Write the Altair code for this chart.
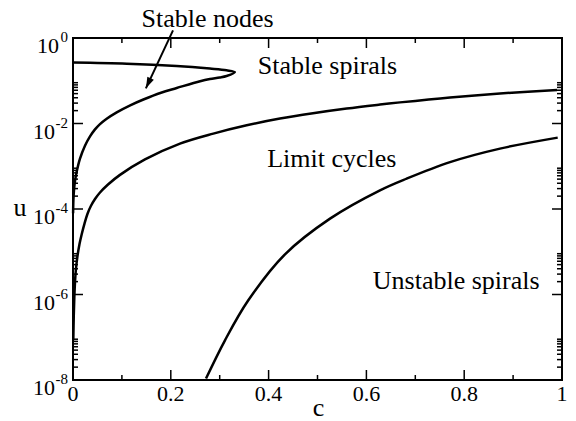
import altair as alt
import pandas as pd
import numpy as np

# ---- data (c, log10 u) ----
nodes_c = [0.0, 0.11, 0.212, 0.28, 0.314, 0.331,
           0.314, 0.30, 0.28, 0.26, 0.2121, 0.18, 0.144, 0.117, 0.0894, 0.0689,
           0.0552, 0.045, 0.0348, 0.0245, 0.0143, 0.0076, 0.0041, 0.002, 0.0008, 0.0002]
nodes_lu = [-0.575, -0.60, -0.655, -0.716, -0.756, -0.80,
            -0.89, -0.925, -0.96, -1.01, -1.17, -1.28, -1.438, -1.574, -1.738, -1.888,
            -2.014, -2.138, -2.302, -2.52, -2.823, -3.125, -3.345, -3.563, -3.797, -4.1]

cyc_c = [0.0006, 0.0016, 0.0027, 0.0041, 0.0057, 0.0088, 0.0133, 0.0178, 0.0235,
         0.0297, 0.0368, 0.045, 0.0552, 0.0716, 0.0961, 0.1472, 0.2188, 0.2869,
         0.3552, 0.4233, 0.4908, 0.5597, 0.6278, 0.6687, 0.771, 0.8732, 0.9898]
cyc_lu = [-7.07, -6.49, -6.07, -5.71, -5.44, -5.13, -4.82, -4.59, -4.34,
          -4.11, -3.925, -3.766, -3.614, -3.427, -3.202, -2.84, -2.47, -2.236,
          -2.042, -1.885, -1.761, -1.651, -1.558, -1.506, -1.389, -1.296, -1.216]

uns_c = [0.272, 0.3108, 0.3585, 0.4335, 0.5256, 0.6278, 0.6824, 0.771, 0.8732, 0.9912]
uns_lu = [-7.967, -7.071, -6.136, -5.06, -4.225, -3.563, -3.289, -2.903, -2.587, -2.33]

x_major = [0.0, 0.2, 0.4, 0.6, 0.8, 1.0]
x_major_labels = ["0", "0.2", "0.4", "0.6", "0.8", "1"]
x_minor = [0.1, 0.3, 0.5, 0.7, 0.9]
y_major_exp = [0, -2, -4, -6, -8]
y_minor_dec = [-2, -4, -6, -8]
y_minor_k = [2, 3, 4, 5, 6, 7, 8, 9]

region_text = ["Stable nodes", "Stable spirals", "Limit cycles", "Unstable spirals"]
region_c = [0.140, 0.378, 0.397, 0.613]
region_lu = [0.25, -0.85, -3.02, -5.86]

arrow_c = [0.2045, 0.149]
arrow_lu = [0.18, -1.178]

W, H = 489, 342
FONT = "Liberation Serif, Times New Roman, Nimbus Roman, DejaVu Serif, serif"

xs = alt.Scale(domain=[0, 1], nice=False, zero=False)
ys = alt.Scale(type="log", domain=[1e-8, 1], nice=False)


def X(f):
    return alt.X(f, type="quantitative", scale=xs, axis=None)


def Y(f):
    return alt.Y(f, type="quantitative", scale=ys, axis=None)


def curve(c, lu):
    df = pd.DataFrame({"c": c, "u": np.power(10.0, lu), "i": list(range(len(c)))})
    return alt.Chart(df).mark_line(color="black", strokeWidth=2.5,
                                   interpolate="catmull-rom").encode(
        x=X("c"), y=Y("u"), order=alt.Order("i:Q"))


layers = [curve(nodes_c, nodes_lu), curve(cyc_c, cyc_lu), curve(uns_c, uns_lu)]

# ticks (inward, mirrored)
xmaj_df = pd.DataFrame({"v": x_major, "t": x_major_labels})
xmin_df = pd.DataFrame({"v": x_minor})
ymaj_df = pd.DataFrame({"v": [10.0 ** e for e in y_major_exp],
                        "e": [str(e) for e in y_major_exp]})
ymin_df = pd.DataFrame({"v": [k * 10.0 ** m for m in y_minor_dec for k in y_minor_k]})
one_df = pd.DataFrame({"k": [0]})

for df, L in [(xmaj_df, 10), (xmin_df, 5)]:
    layers.append(alt.Chart(df).mark_rule(color="black", strokeWidth=1.5).encode(
        x=X("v"), y=alt.value(H), y2=alt.value(H - L)))
    layers.append(alt.Chart(df).mark_rule(color="black", strokeWidth=1.5).encode(
        x=X("v"), y=alt.value(0), y2=alt.value(L)))
for df, L in [(ymaj_df, 10), (ymin_df, 5)]:
    layers.append(alt.Chart(df).mark_rule(color="black", strokeWidth=1.5).encode(
        y=Y("v"), x=alt.value(0), x2=alt.value(L)))
    layers.append(alt.Chart(df).mark_rule(color="black", strokeWidth=1.5).encode(
        y=Y("v"), x=alt.value(W), x2=alt.value(W - L)))

# x tick labels
layers.append(alt.Chart(xmaj_df).mark_text(font=FONT, fontSize=22, color="black",
                                           align="center", baseline="alphabetic").encode(
    x=X("v"), y=alt.value(H + 21), text="t:N"))

# y tick labels: "10" + superscript exponent
layers.append(alt.Chart(ymaj_df).mark_text(font=FONT, fontSize=15, color="black",
                                           align="right", baseline="alphabetic", dy=4).encode(
    y=Y("v"), x=alt.value(-5), text="e:N"))
layers.append(alt.Chart(ymaj_df).transform_filter("datum.e == '0'").mark_text(
    font=FONT, fontSize=22, color="black", align="right", baseline="alphabetic",
    dx=-9, dy=15).encode(y=Y("v"), x=alt.value(-5), text=alt.value("10")))
layers.append(alt.Chart(ymaj_df).transform_filter("datum.e != '0'").mark_text(
    font=FONT, fontSize=22, color="black", align="right", baseline="alphabetic",
    dx=-13, dy=15).encode(y=Y("v"), x=alt.value(-5), text=alt.value("10")))

# axis titles
layers.append(alt.Chart(one_df).mark_text(font=FONT, fontSize=26, color="black",
                                          align="center", baseline="alphabetic").encode(
    x=alt.value(W / 2 + 1), y=alt.value(H + 36), text=alt.value("c")))
layers.append(alt.Chart(one_df).mark_text(font=FONT, fontSize=26, color="black",
                                          align="center", baseline="alphabetic").encode(
    x=alt.value(-53), y=alt.value(178), text=alt.value("u")))

# region labels
reg_df = pd.DataFrame({"c": region_c, "u": np.power(10.0, region_lu), "t": region_text})
layers.append(alt.Chart(reg_df).mark_text(font=FONT, fontSize=26, color="black",
                                          align="left", baseline="alphabetic").encode(
    x=X("c"), y=Y("u"), text="t:N"))

# arrow
arr_df = pd.DataFrame({"c": [arrow_c[0]], "u": [10.0 ** arrow_lu[0]],
                       "c2": [arrow_c[1]], "u2": [10.0 ** arrow_lu[1]]})
layers.append(alt.Chart(arr_df).mark_rule(color="black", strokeWidth=2).encode(
    x=X("c"), y=Y("u"), x2="c2:Q", y2="u2:Q"))
layers.append(alt.Chart(arr_df).mark_point(
    shape="M0,0 L-0.32,-1 L0.32,-1 Z", filled=True, color="black", opacity=1,
    size=500, angle=25).encode(x=X("c2"), y=Y("u2")))

chart = alt.layer(*layers).properties(
    width=W, height=H,
    autosize=alt.AutoSizeParams(type="none"),
    padding={"left": 65, "top": 30, "right": 6, "bottom": 41},
).configure_view(stroke="black", strokeWidth=2)

chart.save("out.html", embed_options={"renderer": "svg", "actions": False})
